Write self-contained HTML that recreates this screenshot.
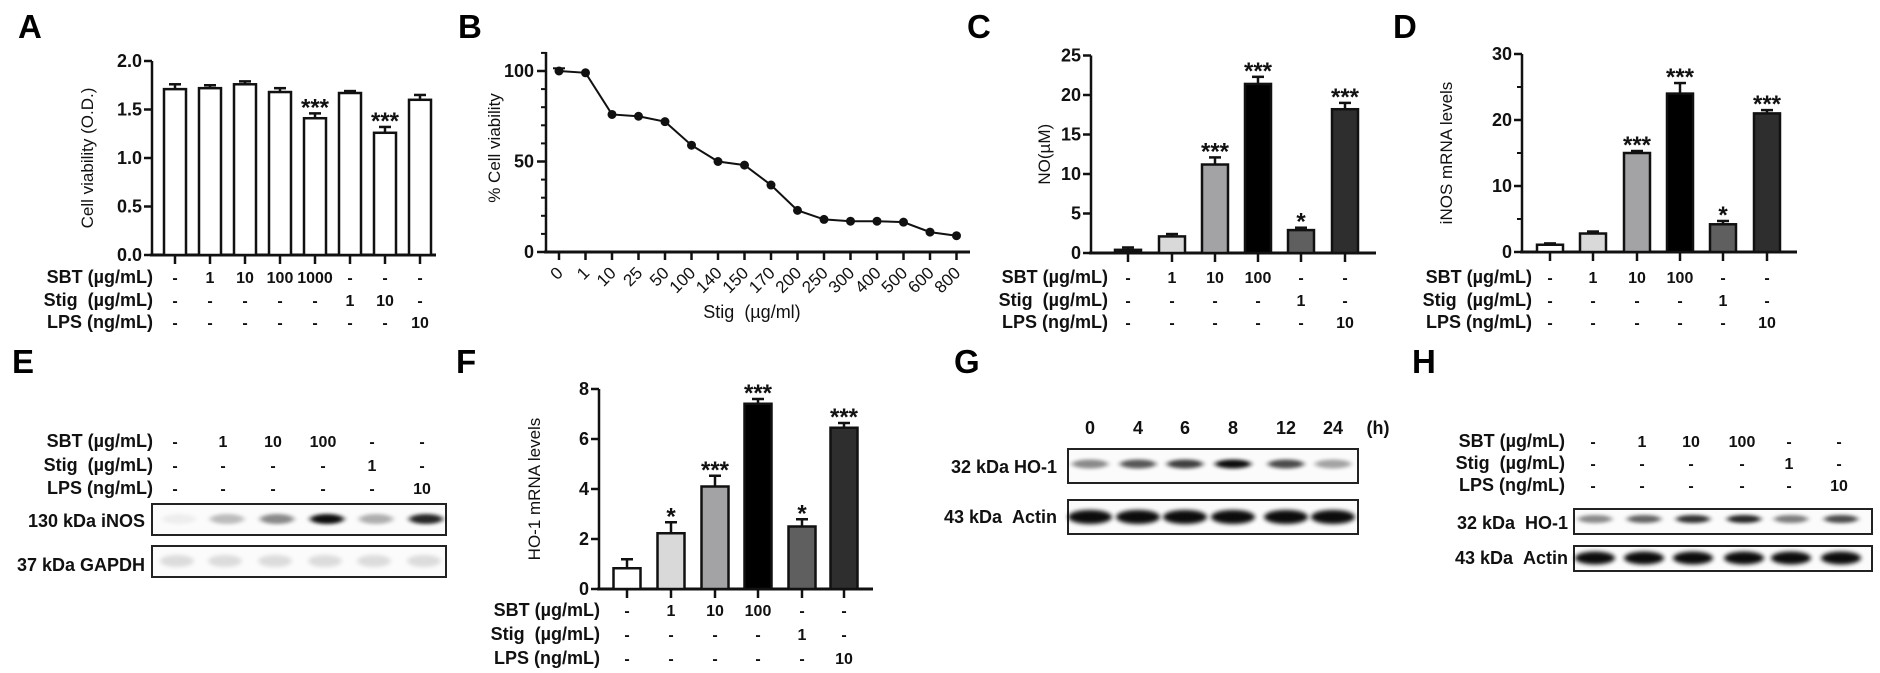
<!DOCTYPE html>
<html><head><meta charset="utf-8"><style>
html,body{margin:0;padding:0;background:#fff;}
svg{display:block;font-family:"Liberation Sans",Arial,sans-serif;}
</style></head><body>
<svg id="s" width="1880" height="673" viewBox="0 0 1880 673" xmlns="http://www.w3.org/2000/svg">
<defs>
<filter id="bl" x="-50%" y="-100%" width="200%" height="300%"><feGaussianBlur stdDeviation="3 1.8"/></filter>
<filter id="bl2" x="-50%" y="-100%" width="200%" height="300%"><feGaussianBlur stdDeviation="2.5 2"/></filter>
</defs>
<g id="g"></g>
</svg>
<script>
const g=document.getElementById('g');let h='';
function T(x,y,t,o){o=o||{};h+=`<text x="${x}" y="${y}" font-size="${o.s||15}" font-weight="${o.w||'bold'}" text-anchor="${o.a||'middle'}" fill="${o.f||'#111'}"${o.tr?` transform="${o.tr}"`:''}>${t}</text>`;}
function L(x1,y1,x2,y2,w,c){h+=`<line x1="${x1}" y1="${y1}" x2="${x2}" y2="${y2}" stroke="${c||'#111'}" stroke-width="${w||2.5}"/>`;}
function R(x,y,w,hh,f,sw){h+=`<rect x="${x}" y="${y}" width="${w}" height="${hh}" fill="${f}" stroke="#111" stroke-width="${sw||2.5}"/>`;}
[['A',18,38],['B',458,38],['C',967,38],['D',1393,38],['E',12,373],['F',456,373],['G',954,373],['H',1412,373]].forEach(p=>T(p[1],p[2],p[0],{s:33,a:'start',f:'#000'}));

function barChart(o){
 const {ax,y0,sc,xs,vals,errs,cols,bw,xend,ticks,ylab,ylx,rowx,rows,rowy,stars,ymax}=o;
 const ytop=y0-ymax*sc;
 L(ax,ytop,ax,y0,2.5);L(ax-2,y0,xend,y0,3);
 ticks.forEach(t=>{const y=y0-t*sc;L(ax-8,y,ax,y,2.5);T(ax-10,y+6,o.fmt?o.fmt(t):t,{a:'end',s:18});});
 if(o.minor)o.minor.forEach(t=>{const y=y0-t*sc;L(ax-5,y,ax,y,2);});
 xs.forEach((x,i)=>{const v=vals[i],e=errs[i],top=y0-v*sc;
  L(x,top,x,top-e*sc,2.5);L(x-6,top-e*sc,x+6,top-e*sc,2.5);
  R(x-bw/2,top,bw,v*sc,cols[i]);L(x,y0,x,y0+9,2.5);
  if(stars[i])T(x,top-e*sc+2,stars[i],{s:24,w:'bold'});
 });
 T(ylx,(ytop+y0)/2,ylab,{s:17,tr:`rotate(-90 ${ylx} ${(ytop+y0)/2})`,w:'normal'});
 const names=['SBT (µg/mL)','Stig&#160;&#160;(µg/mL)','LPS (ng/mL)'];
 rows.forEach((r,j)=>{T(rowx,rowy[j],names[j],{a:'end',s:18});r.forEach((t,i)=>T(xs[i],rowy[j],t,{s:16}));});
}
const D='-';
barChart({ax:152,y0:255,sc:97,xs:[175,210,245,280,315,350,385,420],vals:[1.71,1.72,1.76,1.68,1.41,1.67,1.26,1.60],errs:[.05,.03,.03,.04,.05,.02,.06,.05],
 cols:Array(8).fill('#fff'),bw:22,xend:436,ticks:[0,0.5,1,1.5,2],fmt:t=>t.toFixed(1),ylab:'Cell viability (O.D.)',ylx:93,rowx:153,
 rows:[[D,'1','10','100','1000',D,D,D],[D,D,D,D,D,'1','10',D],[D,D,D,D,D,D,D,'10']],rowy:[283,306,328],stars:['','','','','***','','***',''],ymax:2});
barChart({ax:1091,y0:253,sc:7.9,xs:[1128,1172,1215,1258,1301,1345],vals:[0.4,2.1,11.2,21.4,2.9,18.2],errs:[.3,.3,.9,.9,.3,.8],
 cols:['#111','#d9d9d9','#a3a3a6','#000','#5f5f5f','#2e2e2e'],bw:26,xend:1376,ticks:[0,5,10,15,20,25],ylab:'NO(µM)',ylx:1050,rowx:1108,
 rows:[[D,'1','10','100',D,D],[D,D,D,D,'1',D],[D,D,D,D,D,'10']],rowy:[283,306,328],stars:['','','***','***','*','***'],ymax:25});
barChart({ax:1522,y0:252,sc:6.6,xs:[1550,1593,1637,1680,1723,1767],vals:[1.1,2.8,15,24,4.2,21],errs:[.2,.3,.3,1.6,.5,.5],
 cols:['#fff','#d9d9d9','#a3a3a6','#000','#5f5f5f','#2e2e2e'],bw:26,xend:1797,ticks:[0,10,20,30],minor:[5,15,25],ylab:'iNOS mRNA levels',ylx:1452,rowx:1532,
 rows:[[D,'1','10','100',D,D],[D,D,D,D,'1',D],[D,D,D,D,D,'10']],rowy:[283,306,328],stars:['','','***','***','*','***'],ymax:30});
barChart({ax:599,y0:589,sc:25,xs:[627,671,715,758,802,844],vals:[0.83,2.23,4.1,7.41,2.5,6.45],errs:[.36,.44,.43,.19,.29,.19],
 cols:['#fff','#d9d9d9','#a3a3a6','#000','#5f5f5f','#2e2e2e'],bw:27,xend:873,ticks:[0,2,4,6,8],ylab:'HO-1 mRNA levels',ylx:540,rowx:600,
 rows:[[D,'1','10','100',D,D],[D,D,D,D,'1',D],[D,D,D,D,D,'10']],rowy:[616,640,664],stars:['','*','***','***','*','***'],ymax:8});
// B
(function(){const ax=546,y0=252,sc=1.81;L(ax,52,ax,y0,2.5);L(ax-2,y0,970,y0,3);
 [0,50,100].forEach(t=>{const y=y0-t*sc;L(ax-9,y,ax,y,2.5);T(ax-12,y+6,t,{a:'end',s:18});});
 [10,20,30,40,60,70,80,90,110].forEach(t=>{const y=y0-t*sc;L(ax-5,y,ax,y,2);});
 const labs=['0','1','10','25','50','100','140','150','170','200','250','300','400','500','600','800'];
 const vals=[100,99,76,75,72,59,50,48,37,23,18,17,17,16.5,11,9];
 let pts=[];labs.forEach((l,i)=>{const x=559+i*26.5,y=y0-vals[i]*sc;pts.push(x+','+y);
  L(x,y0,x,y0+8,2.5);T(x+5,y0+22,l,{s:17,a:'end',tr:`rotate(-45 ${x+5} ${y0+22})`,w:'normal'});});
 h+=`<polyline points="${pts.join(' ')}" fill="none" stroke="#111" stroke-width="2"/>`;
 pts.forEach(p=>{const [x,y]=p.split(',');h+=`<circle cx="${x}" cy="${y}" r="4.5" fill="#111"/>`;});
 L(553,y0-101.5*sc,565,y0-101.5*sc,2);
 T(752,318,'Stig&#160;&#160;(µg/ml)',{s:18,w:'normal'});
 T(500,148,'% Cell viability',{s:17,w:'normal',tr:'rotate(-90 500 148)'});
})();
function box(x,y,w,hh){h+=`<rect x="${x}" y="${y}" width="${w}" height="${hh}" fill="#fbfbfb" stroke="#222" stroke-width="2"/>`;}
function band(cx,cy,w,hh,op,f){h+=`<ellipse cx="${cx}" cy="${cy}" rx="${w/2}" ry="${hh/2}" fill="#000" opacity="${op}" filter="url(#${f||'bl'})"/>`;}
// E
const ex=[175,223,273,323,372,422];
[['SBT (µg/mL)',[D,'1','10','100',D,D],447],['Stig&#160;&#160;(µg/mL)',[D,D,D,D,'1',D],471],['LPS (ng/mL)',[D,D,D,D,D,'10'],494]].forEach(r=>{T(153,r[2],r[0],{a:'end',s:18});r[1].forEach((t,i)=>T(ex[i],r[2],t,{s:16}));});
box(152,504,294,31);[.05,.25,.45,.95,.3,.85].forEach((o,i)=>band(ex[i]+4,519,34,10,o));
box(152,546,294,31);ex.forEach(x=>band(x+2,561,34,12,.12,'bl2'));
T(145,527,'130 kDa iNOS',{a:'end',s:18});T(145,571,'37 kDa GAPDH',{a:'end',s:18});
// G
const gx=[1090,1138,1185,1233,1286,1333];
['0','4','6','8','12','24'].forEach((t,i)=>T(gx[i],434,t,{s:18}));T(1378,434,'(h)',{s:18});
box(1068,449,290,34);[.45,.65,.75,.95,.7,.35].forEach((o,i)=>band(gx[i],464,36,9,o));
box(1068,500,290,34);gx.forEach(x=>band(x,517,44,14,.95,'bl2'));
T(1057,473,'32 kDa HO-1',{a:'end',s:18});T(1057,523,'43 kDa&#160;&#160;Actin',{a:'end',s:18});
// H
const hx=[1593,1642,1691,1742,1789,1839];
[['SBT (µg/mL)',[D,'1','10','100',D,D],447],['Stig&#160;&#160;(µg/mL)',[D,D,D,D,'1',D],469],['LPS (ng/mL)',[D,D,D,D,D,'10'],491]].forEach(r=>{T(1565,r[2],r[0],{a:'end',s:18});r[1].forEach((t,i)=>T(hx[i],r[2],t,{s:16}));});
box(1574,509,298,25);[.45,.6,.8,.85,.5,.7].forEach((o,i)=>band(hx[i]+2,519,34,8,o));
box(1574,546,298,25);hx.forEach(x=>band(x+2,558,40,13,.95,'bl2'));
T(1568,529,'32 kDa&#160;&#160;HO-1',{a:'end',s:18});T(1568,564,'43 kDa&#160;&#160;Actin',{a:'end',s:18});
g.innerHTML=h;
</script>
</body></html>
